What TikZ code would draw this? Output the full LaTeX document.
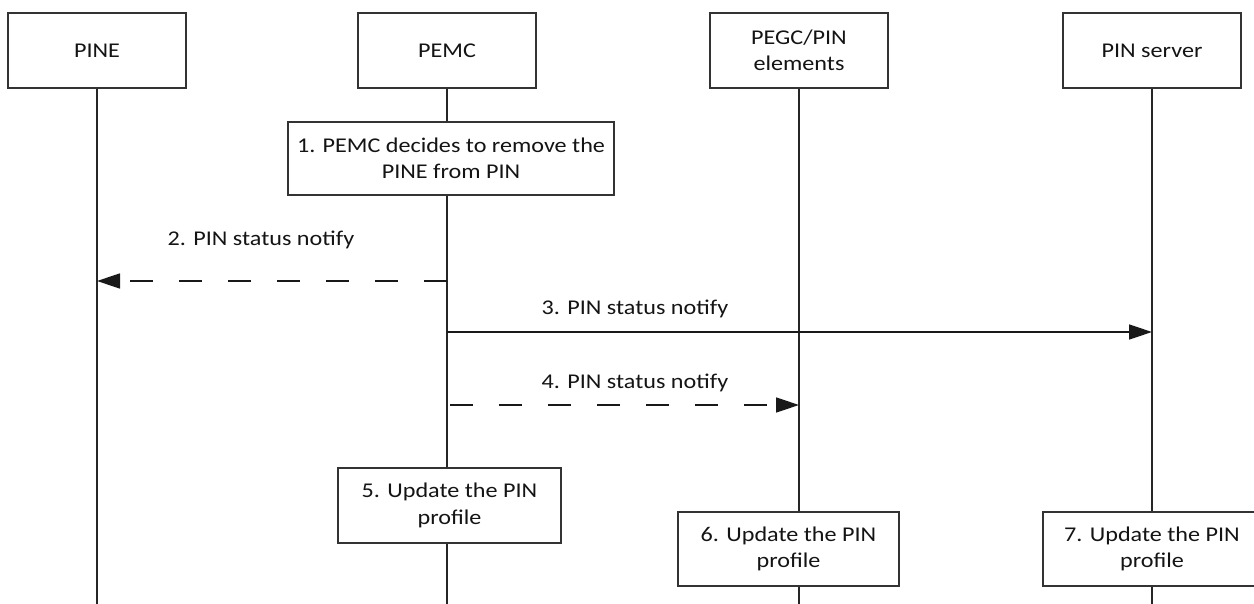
\documentclass[tikz,border=0pt]{standalone}
\usepackage{fontspec}
\setmainfont{Carlito}[FakeStretch=1.15]
\usetikzlibrary{arrows.meta}
\begin{document}
\begin{tikzpicture}[x=1pt,y=-1pt,
  every node/.style={font=\fontsize{21}{26.5}\selectfont, text=black!92},
  entity/.style={draw=black!80, line width=1.4pt, fill=white, minimum width=178pt, minimum height=75pt, align=center, inner sep=0pt},
  action/.style={draw=black!80, line width=1.4pt, fill=white, minimum height=74pt, align=center, inner sep=0pt},
  life/.style={line width=1.4pt, black!85},
  msg/.style={line width=1.4pt, black!90, -{Triangle[length=23pt,width=15pt]}},
  dsh/.style={dash pattern=on 23pt off 26pt},
  lbl/.style={inner sep=0pt}]
\useasboundingbox (0,0) rectangle (1254,604);
% lifeline ends
\coordinate (pineEnd) at (97,604);
\coordinate (pemcEnd) at (447,604);
\coordinate (pegcEnd) at (799,604);
\coordinate (srvEnd) at (1152,604);
% entities
\node[entity] (pine) at (97,50.5) {PINE};
\node[entity] (pemc) at (447,50.5) {PEMC};
\node[entity] (pegc) at (799,50.5) {PEGC/PIN\\elements};
\node[entity] (srv) at (1152,50.5) {PIN server};
% lifelines
\draw[life] (pine.south) -- (pineEnd);
\draw[life] (pemc.south) -- (pemcEnd);
\draw[life] (pegc.south) -- (pegcEnd);
\draw[life] (srv.south) -- (srvEnd);
% actions
\node[action, minimum width=326pt, minimum height=73pt] (s1) at (451,158.5) {1. PEMC decides to remove the\\PINE from PIN};
\node[action, minimum width=223pt, minimum height=75pt] (s5) at (449.5,505.5) {5. Update the PIN\\profile};
\node[action, minimum width=221pt] (s6) at (788.5,549) {6. Update the PIN\\profile};
\node[action, minimum width=218pt] (s7) at (1152,549) {7. Update the PIN\\profile};
% messages
\coordinate (m2a) at (447,281);
\coordinate (m2b) at (97,281);
\coordinate (m3a) at (447,332);
\coordinate (m3b) at (1152,332);
\coordinate (m4a) at (450,405);
\coordinate (m4b) at (799,405);
\draw[msg, dsh] (m2a) -- (m2b);
\draw[msg] (m3a) -- (m3b);
\draw[msg, dsh] (m4a) -- (m4b);
\node[lbl] (l2) at (261,240) {2. PIN status notify};
\node[lbl] (l3) at (635,309) {3. PIN status notify};
\node[lbl] (l4) at (635,383) {4. PIN status notify};
\end{tikzpicture}
\end{document}
